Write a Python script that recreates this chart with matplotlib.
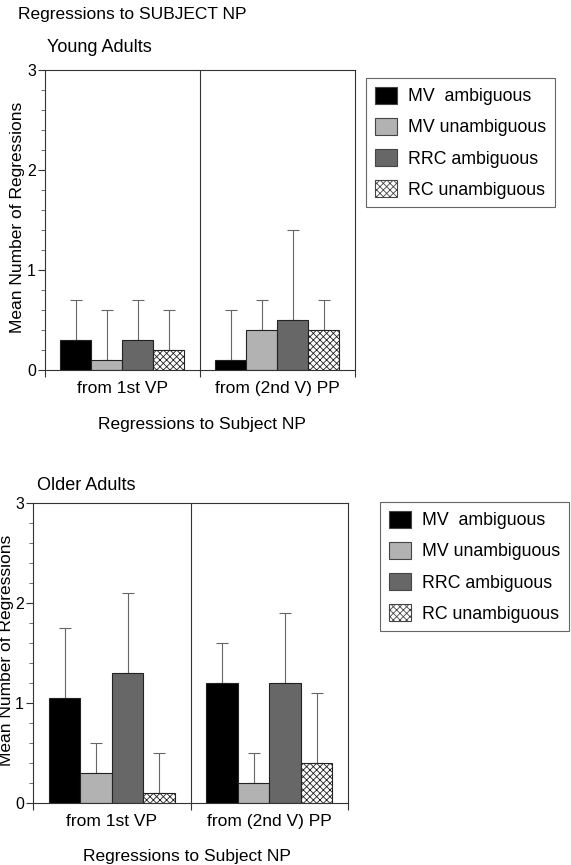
import numpy as np
import matplotlib.pyplot as plt
from matplotlib.patches import Patch
from matplotlib.ticker import MultipleLocator

plt.rcParams['font.family'] = ['Liberation Sans', 'DejaVu Sans']
plt.rcParams['hatch.linewidth'] = 0.6

conditions = ['MV  ambiguous', 'MV unambiguous', 'RRC ambiguous', 'RC unambiguous']
regions = ['from 1st VP', 'from (2nd V) PP']

# mean regressions per region, one row per condition
young_means = np.array([[0.3, 0.1], [0.1, 0.4], [0.3, 0.5], [0.2, 0.4]])
young_sd = np.array([[0.4, 0.5], [0.5, 0.3], [0.4, 0.9], [0.4, 0.3]])
older_means = np.array([[1.05, 1.2], [0.3, 0.2], [1.3, 1.2], [0.1, 0.4]])
older_sd = np.array([[0.7, 0.4], [0.3, 0.3], [0.8, 0.7], [0.4, 0.7]])

colors = ['#000000', '#b2b2b2', '#676767', '#ffffff']
hatches = [None, None, None, 'xxxxx']


def draw_panel(ax, means, sd):
    width = 0.2
    centers = np.arange(len(regions)) + 0.5
    for i in range(len(conditions)):
        x = centers + (i - 1.5) * width
        ax.errorbar(x, means[i], yerr=[np.zeros_like(sd[i]), sd[i]], fmt='none',
                    ecolor='#666666', elinewidth=0.8, capsize=4, capthick=0.8, zorder=1)
        ax.bar(x, means[i], width, color=colors[i], hatch=hatches[i],
               edgecolor='#222222', linewidth=0.8, zorder=2)
    ax.axvline(1, color='#333333', lw=0.8)
    ax.set_xlim(0, 2)
    ax.set_ylim(0, 3)
    ax.set_yticks([0, 1, 2, 3])
    ax.yaxis.set_minor_locator(MultipleLocator(0.2))
    ax.set_xticks(centers)
    ax.set_xticklabels(regions, fontsize=12.5)
    ax.set_xticks([0, 1, 2], minor=True)
    ax.tick_params(axis='x', which='major', length=0, pad=8)
    ax.tick_params(axis='x', which='minor', length=5, width=0.8, color='#333333')
    ax.tick_params(axis='y', which='major', length=5, width=0.8, labelsize=11.5, pad=1.5, color='#333333')
    ax.tick_params(axis='y', which='minor', length=3, width=0.6, color='#555555')
    for s in ax.spines.values():
        s.set_linewidth(0.8)
        s.set_color('#333333')


fig = plt.figure(figsize=(5.71, 8.65), dpi=100)
ax1 = fig.add_axes([0.0788, 0.5723, 0.5429, 0.3468])
ax2 = fig.add_axes([0.0578, 0.0717, 0.5517, 0.3468])

draw_panel(ax1, young_means, young_sd)
draw_panel(ax2, older_means, older_sd)

fig.text(0.032, 1 - 14 / 865, 'Regressions to SUBJECT NP', fontsize=12.5, va='center')
fig.text(0.082, 1 - 47 / 865, 'Young Adults', fontsize=13, va='center')
fig.text(0.065, 1 - 485 / 865, 'Older Adults', fontsize=13, va='center')
fig.text(202 / 571, 1 - 425 / 865, 'Regressions to Subject NP', fontsize=12.5, ha='center', va='center')
fig.text(187 / 571, 1 - 857 / 865, 'Regressions to Subject NP', fontsize=12.5, ha='center', va='center')
fig.text(18 / 571, 1 - 217 / 865, 'Mean Number of Regressions', fontsize=12.5, rotation=90,
         ha='center', va='center')
fig.text(7 / 571, 1 - 650 / 865, 'Mean Number of Regressions', fontsize=12.5, rotation=90,
         ha='center', va='center')

handles = [Patch(facecolor=c, edgecolor='#444444', hatch=h, linewidth=0.8)
           for c, h in zip(colors, hatches)]
for anchor in [(366 / 571, 1 - 78 / 865), (380 / 571, 1 - 502 / 865)]:
    leg = fig.legend(handles, conditions, loc='upper left', bbox_to_anchor=anchor,
                     fontsize=12.8, fancybox=False, framealpha=1, edgecolor='#666666',
                     handlelength=1.24, handleheight=1.1, labelspacing=0.7,
                     handletextpad=0.6, borderpad=0.5, borderaxespad=0)
    leg.get_frame().set_linewidth(0.8)

fig.savefig('out.png', dpi=100)
